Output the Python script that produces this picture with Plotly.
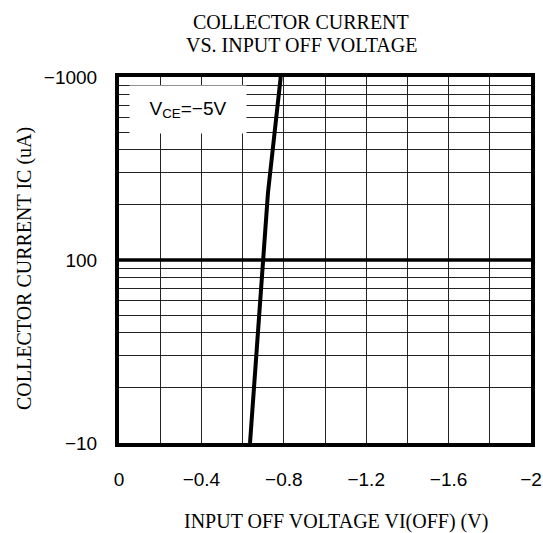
import plotly.graph_objects as go

# Data
vi_off = [-0.636, -0.700, -0.723, -0.785]   # V
ic = [10, 100, 232, 1000]                   # uA (magnitude)

x_tick_vals = [0, -0.4, -0.8, -1.2, -1.6, -2.0]
x_tick_text = ["0", "−0.4", "−0.8", "−1.2", "−1.6", "−2"]
x_grid_vals = [0, -0.2, -0.4, -0.6, -0.8, -1.0, -1.2, -1.4, -1.6, -1.8, -2.0]

y_grid_vals = [10, 20, 30, 40, 50, 60, 70, 80, 90, 100,
               200, 300, 400, 500, 600, 700, 800, 900, 1000]
y_label_map = {10: "−10", 100: "100", 1000: "−1000"}
y_grid_text = [y_label_map.get(v, "") for v in y_grid_vals]

title_lines = ["COLLECTOR CURRENT", "VS. INPUT OFF VOLTAGE"]
x_title = "INPUT OFF VOLTAGE VI(OFF) (V)"
y_title = "COLLECTOR CURRENT IC (uA)"

serif = "Liberation Serif, Times New Roman, serif"
sans = "Liberation Sans, Arial, sans-serif"

W, H = 543, 533
L, R, T, B = 119, 12, 77, 90
pw = W - L - R
ph = H - T - B


def px_x(x):
    return (x - L) / pw


def px_y(y):
    return (H - B - y) / ph


fig = go.Figure()
fig.add_trace(go.Scatter(x=vi_off, y=ic, mode="lines",
                         line=dict(color="black", width=4), showlegend=False))

# heavy line at 100
fig.add_shape(type="line", xref="paper", x0=0, x1=1, yref="y", y0=100, y1=100,
              line=dict(color="black", width=3.5), layer="above")

fig.add_annotation(text="V<sub>CE</sub>=−5V", xref="paper", yref="paper",
                   x=px_x(188), y=px_y(109.5), xanchor="center", yanchor="middle",
                   showarrow=False, bgcolor="white", width=114, height=45,
                   font=dict(family=sans, size=19, color="black"))

for line, ypx in zip(title_lines, [22, 45]):
    fig.add_annotation(text=line, xref="paper", yref="paper",
                       x=px_x(301), y=px_y(ypx), xanchor="center", yanchor="middle",
                       showarrow=False, font=dict(family=serif, size=20, color="black"))

fig.add_annotation(text=x_title, xref="paper", yref="paper",
                   x=px_x(336), y=px_y(521), xanchor="center", yanchor="middle",
                   showarrow=False, font=dict(family=serif, size=20, color="black"))
fig.add_annotation(text=y_title, xref="paper", yref="paper", textangle=-90,
                   x=px_x(24), y=px_y(269), xanchor="center", yanchor="middle",
                   showarrow=False, font=dict(family=serif, size=20, color="black"))

fig.update_layout(
    width=W, height=H,
    margin=dict(l=L, r=R, t=T, b=B),
    paper_bgcolor="white", plot_bgcolor="white",
    xaxis=dict(range=[0, -2], tickvals=x_grid_vals, automargin=False,
               ticktext=[x_tick_text[x_tick_vals.index(v)] if v in x_tick_vals else "" for v in x_grid_vals],
               showgrid=True, gridcolor="#222", gridwidth=1,
               zeroline=False, showline=True, linecolor="black", linewidth=4, mirror=True,
               ticks="", ticklabelstandoff=16,
               tickfont=dict(family=sans, size=19, color="black")),
    yaxis=dict(type="log", range=[1, 3], tickvals=y_grid_vals, ticktext=y_grid_text,
               automargin=False,
               showgrid=True, gridcolor="#222", gridwidth=1,
               zeroline=False, showline=True, linecolor="black", linewidth=4, mirror=True,
               ticks="", ticklabelstandoff=14,
               tickfont=dict(family=sans, size=19, color="black")),
)

fig.write_html("out.html", config={"displayModeBar": False},
               post_script="document.body.style.margin='0';")
